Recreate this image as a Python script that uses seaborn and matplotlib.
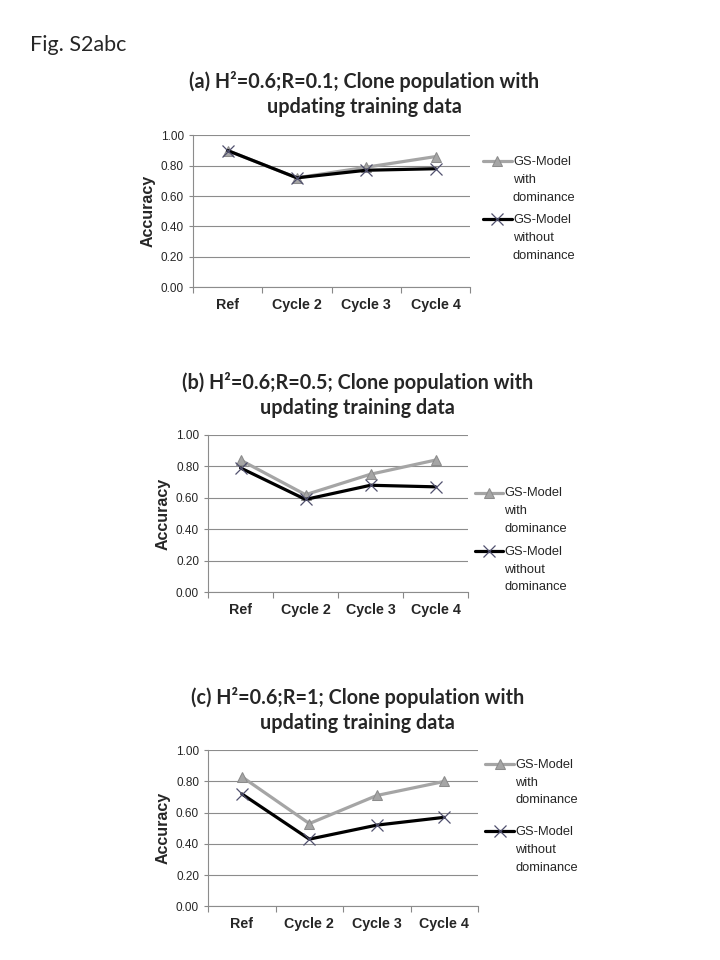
import matplotlib
matplotlib.use("Agg")
import matplotlib.pyplot as plt
from matplotlib.legend_handler import HandlerLine2D
import seaborn as sns

cycles = ["Ref", "Cycle 2", "Cycle 3", "Cycle 4"]
with_dom = "GS-Model\nwith\ndominance"
without_dom = "GS-Model\nwithout\ndominance"

# accuracy
a_with = [0.90, 0.72, 0.79, 0.86]
a_without = [0.90, 0.72, 0.77, 0.78]
b_with = [0.84, 0.62, 0.75, 0.84]
b_without = [0.79, 0.59, 0.68, 0.67]
c_with = [0.83, 0.53, 0.71, 0.80]
c_without = [0.72, 0.43, 0.52, 0.57]

titles = [
    "(a) H²=0.6;R=0.1; Clone population with\nupdating training data",
    "(b) H²=0.6;R=0.5; Clone population with\nupdating training data",
    "(c) H²=0.6;R=1; Clone population with\nupdating training data",
]


class TopLineHandler(HandlerLine2D):
    # put the legend line next to the first text line, like Excel does
    def create_artists(self, legend, orig_handle, xdescent, ydescent, width, height,
                       fontsize, trans):
        artists = super().create_artists(legend, orig_handle, xdescent, ydescent, width,
                                         height, fontsize, trans)
        for a in artists:
            a.set_ydata([y + fontsize * 1.42 for y in a.get_ydata()])
        return artists


sns.set_style("white")
plt.rcParams["font.family"] = ["Liberation Sans", "DejaVu Sans"]

fig = plt.figure(figsize=(7.2, 9.6), dpi=100)
fig.text(30 / 720, 1 - 45 / 960, "Fig. S2abc", fontsize=15.5, family="Lato", va="center")

# axes rectangles in figure fraction, legend anchor, title centre
panels = [
    dict(rect=[0.268, 0.701, 0.385, 0.158], leg=(0.664, 0.843), ls=0.8, tx=0.506,
         ty=1 - 94 / 960, vals=(a_with, a_without)),
    dict(rect=[0.289, 0.383, 0.361, 0.164], leg=(0.652, 0.498), ls=0.85, tx=0.497,
         ty=1 - 395 / 960, vals=(b_with, b_without)),
    dict(rect=[0.289, 0.056, 0.375, 0.1625], leg=(0.667, 0.215), ls=1.5, tx=0.497,
         ty=1 - 710 / 960, vals=(c_with, c_without)),
]

for p, title in zip(panels, titles):
    ax = fig.add_axes(p["rect"])
    ys_with, ys_without = p["vals"]
    sns.lineplot(x=cycles, y=ys_with, color="#a5a5a5", marker="^", markersize=7,
                 markerfacecolor="#a5a5a5", markeredgecolor="#8c8c8c",
                 linewidth=2.3, label=with_dom, ax=ax, sort=False)
    sns.lineplot(x=cycles, y=ys_without, color="black", marker="x", markersize=8,
                 markeredgecolor="#50506e", markeredgewidth=0.9,
                 linewidth=2.3, label=without_dom, ax=ax, sort=False)

    ax.set_xlim(-0.5, 3.5)
    ax.set_ylim(0, 1.0)
    ax.set_yticks([0, 0.2, 0.4, 0.6, 0.8, 1.0])
    ax.set_yticklabels([f"{v:.2f}" for v in [0, 0.2, 0.4, 0.6, 0.8, 1.0]], fontsize=8.5)
    ax.set_xticks(range(4))
    ax.set_xticklabels(cycles, fontsize=10.3, fontweight="bold")
    ax.set_xticks([-0.5, 0.5, 1.5, 2.5, 3.5], minor=True)
    ax.tick_params(axis="x", which="major", length=0, pad=8)
    ax.tick_params(axis="x", which="minor", length=4, color="#888888", width=0.8, bottom=True)
    ax.tick_params(axis="y", length=3, color="#888888", width=0.8, left=True)
    ax.yaxis.grid(True, color="#8c8c8c", linewidth=0.8)
    ax.set_axisbelow(True)
    for side in ["top", "right"]:
        ax.spines[side].set_visible(False)
    for side in ["left", "bottom"]:
        ax.spines[side].set_color("#8c8c8c")
        ax.spines[side].set_linewidth(0.8)
    ax.set_xlabel("")
    ax.set_ylabel("Accuracy", fontsize=11.5, fontweight="bold", labelpad=4)

    handles, labels = ax.get_legend_handles_labels()
    leg = ax.legend(handles, labels, loc="upper left", bbox_to_anchor=p["leg"],
                    bbox_transform=fig.transFigure, frameon=False, fontsize=9.3,
                    handlelength=2.2, handletextpad=0.1, labelspacing=p["ls"],
                    borderaxespad=0,
                    handler_map={h: TopLineHandler() for h in handles})
    for t in leg.get_texts():
        t.set_linespacing(1.65)

    fig.text(p["tx"], p["ty"], title, ha="center", va="center", fontsize=14.2,
             fontweight="bold", family="Lato", linespacing=1.3)

fig.savefig("out.png", dpi=100)
